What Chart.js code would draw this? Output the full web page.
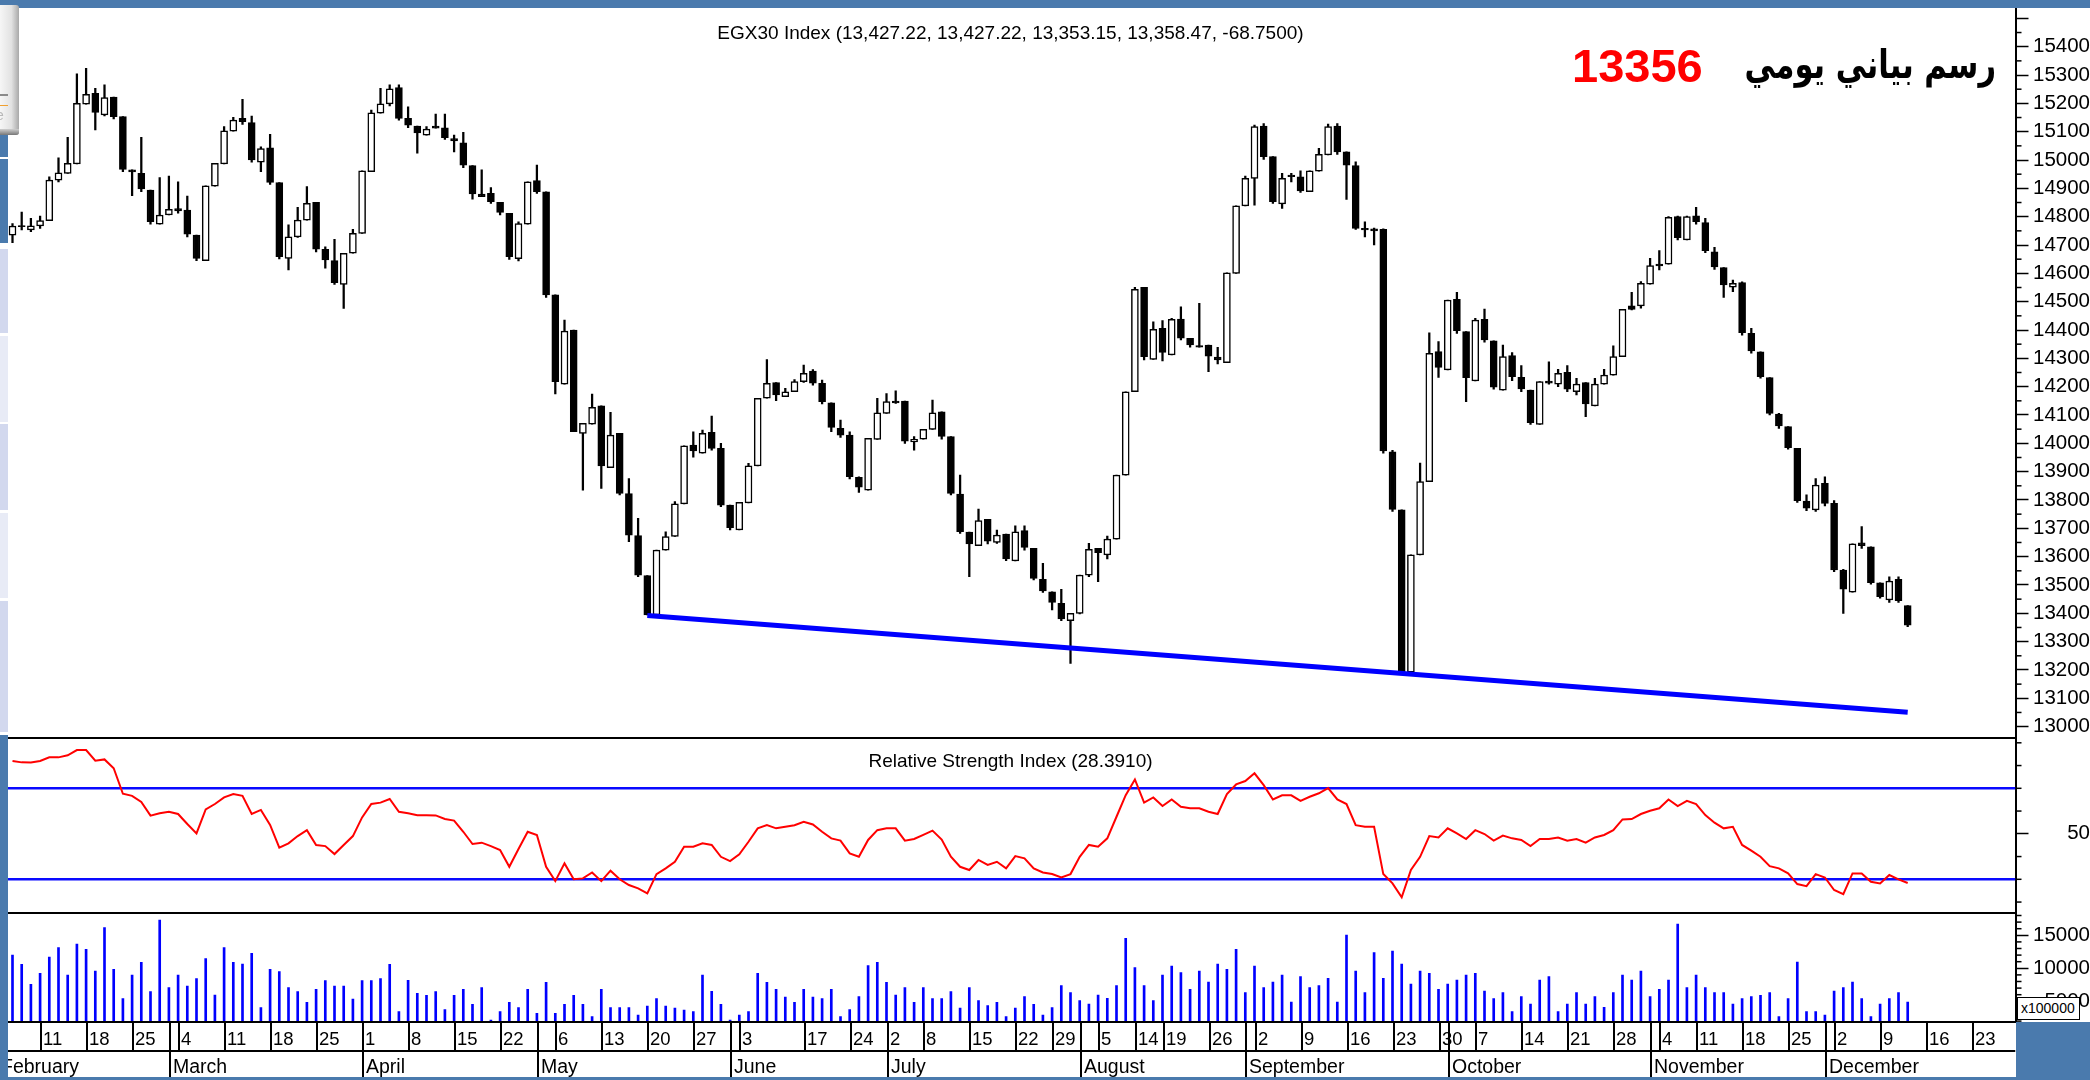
<!DOCTYPE html>
<html><head><meta charset="utf-8">
<script src="https://cdn.jsdelivr.net/npm/chart.js@4.4.1/dist/chart.umd.min.js"></script>
<style>
html,body{margin:0;padding:0;background:#fff;}
body{width:2090px;height:1080px;position:relative;overflow:hidden;font-family:"Liberation Sans",Arial,sans-serif;}
canvas{position:absolute;}
.abs{position:absolute;}
</style></head><body>
<canvas id="cPrice" width="2082" height="729" style="left:8px;top:8px"></canvas>
<canvas id="cRsi" width="2082" height="175" style="left:8px;top:737px"></canvas>
<canvas id="cVol" width="2082" height="166" style="left:8px;top:912px"></canvas>

<div class="abs" style="left:0;top:0;width:2090px;height:8px;background:#4a7aad;z-index:5"></div>
<div class="abs" style="left:0;top:1077px;width:2090px;height:3px;background:#4a7aad;z-index:5"></div>
<div class="abs" style="left:2016px;top:1022px;width:74px;height:56px;background:#4a7aad;z-index:5"></div>
<div class="abs" style="left:0;top:5px;width:19px;height:130px;background:linear-gradient(90deg,#f6f6f6,#e2e2e2 60%,#a9a9a9);border-radius:0 3px 3px 0;z-index:6;overflow:hidden">
  <div class="abs" style="left:0;top:89px;width:8px;height:2px;background:#8a8a8a"></div>
  <div class="abs" style="left:0;top:100px;width:8px;height:1px;background:#f0a030"></div>
  <div class="abs" style="left:-4px;top:102px;font:14px 'Liberation Sans';color:#b8b8b8">e</div>
  <div class="abs" style="left:0;top:124px;width:19px;height:6px;background:linear-gradient(180deg,#cfcfcf,#777)"></div>
</div>

<div class="abs" id="title" style="left:0;top:23px;width:2021px;text-align:center;font:19px/19px 'Liberation Sans';color:#000;white-space:nowrap;z-index:3">EGX30 Index (13,427.22, 13,427.22, 13,353.15, 13,358.47, -68.7500)</div>
<div class="abs" id="rsiTitle" style="left:0;top:751px;width:2021px;text-align:center;font:19px/19px 'Liberation Sans';color:#000;white-space:nowrap;z-index:3">Relative Strength Index (28.3910)</div>
<div class="abs" id="num" style="left:1572px;top:42px;font:bold 47px/47px 'Liberation Sans';color:#ff0000;white-space:nowrap;z-index:3">13356</div>
<div class="abs" id="ar" dir="rtl" style="right:94px;top:40px;font:bold 36px/50px 'DejaVu Sans';color:#000;white-space:nowrap;z-index:3;transform:scale(1,1.3);transform-origin:50% 50%">رسم بياني يومي</div>
<div class="abs" style="left:2017px;top:997px;width:58px;height:21px;background:#fff;border:1px solid #000;font:14px/21px 'Liberation Sans';color:#000;padding-left:3px;box-sizing:content-box;z-index:4;white-space:nowrap">x100000</div>

<script>
// ---------------- DATA ----------------
const open = [14735,14769,14753,14767,14786,14929,14953,14986,15197,15235,
15159,15222,15153,14965,14953,14894,14774,14806,14829,14823,
14735,14645,14908,14986,15102,15147,15132,14992,15043,14920,
14653,14729,14788,14851,14685,14645,14561,14671,14741,14959,
15165,15198,15256,15147,15120,15088,15120,15114,15076,15061,
14980,14880,14882,14851,14812,14652,14774,14927,14888,14524,
14209,14400,14035,14068,14132,13914,14035,13823,13674,13533,
13394,13623,13671,13786,13994,13965,14039,13982,13782,13694,
13790,13920,14159,14214,14165,14182,14218,14255,14212,14143,
14053,14029,13880,13835,14014,14106,14149,14149,14005,14015,
14049,14111,14024,13821,13687,13639,13732,13650,13680,13585,
13692,13629,13520,13476,13435,13374,13400,13535,13629,13606,
13662,13888,14182,14551,14296,14406,14312,14439,14371,14345,
14347,14304,14285,14600,14838,14935,15120,15012,14845,14947,
14941,14888,14961,15018,15120,15029,14980,14759,14757,14755,
13970,13765,13192,13606,13865,14324,14259,14508,14394,14220,
14438,14362,14188,14310,14233,14188,14067,14220,14209,14251,
14182,14214,14132,14209,14241,14306,14485,14485,14562,14633,
14632,14800,14718,14803,14779,14676,14620,14551,14567,14388,
14323,14232,14103,14059,13982,13796,13765,13859,13788,13553,
13475,13649,13635,13508,13447,13520,13427];
const high = [14776,14816,14794,14802,14941,15008,15080,15304,15324,15253,
15265,15222,15153,14965,15080,14894,14938,14943,14923,14873,
14735,14909,14988,15118,15151,15214,15155,15047,15091,14920,
14771,14833,14906,14851,14694,14720,14671,14755,14962,15176,
15253,15265,15265,15188,15120,15118,15162,15162,15088,15098,
14980,14965,14903,14851,14812,14782,14923,14982,14888,14524,
14435,14400,14071,14174,14132,14109,14035,13876,13735,13533,
13623,13688,13794,13991,14041,14047,14096,14000,13782,13792,
13929,14159,14296,14214,14194,14225,14276,14260,14223,14143,
14082,14041,13882,14018,14159,14176,14185,14149,14024,14049,
14153,14111,14024,13888,13687,13768,13732,13694,13680,13709,
13709,13629,13576,13476,13485,13400,13535,13647,13629,13673,
13888,14182,14551,14551,14429,14433,14441,14482,14371,14494,
14347,14339,14602,14838,14943,15123,15129,15012,14953,14953,
14962,14962,15041,15127,15129,15029,14994,14782,14760,14757,
13975,13765,13606,13930,14390,14359,14506,14533,14394,14441,
14474,14362,14347,14320,14274,14188,14218,14288,14261,14274,
14229,14214,14229,14261,14344,14473,14533,14571,14653,14680,
14800,14802,14802,14833,14794,14692,14620,14576,14570,14406,
14323,14232,14106,14059,13982,13818,13876,13882,13798,13555,
13645,13706,13635,13508,13529,13529,13427];
const low = [14708,14753,14747,14759,14786,14923,14953,14986,15197,15106,
15156,15145,14959,14874,14888,14774,14774,14806,14812,14729,
14645,14645,14908,14986,15102,15126,14992,14959,14914,14651,
14612,14727,14788,14676,14618,14561,14476,14671,14741,14959,
15165,15191,15141,15114,15024,15088,15112,15073,15029,14973,
14862,14871,14847,14806,14649,14644,14774,14882,14515,14174,
14209,14041,13835,14068,13841,13914,13818,13653,13529,13394,
13394,13623,13671,13786,13951,13965,13976,13776,13694,13694,
13790,13920,14159,14151,14165,14182,14215,14205,14139,14041,
14021,13874,13827,13835,14014,14106,14141,14000,13976,14015,
14049,14015,13818,13682,13529,13639,13645,13647,13586,13585,
13623,13518,13474,13412,13374,13223,13398,13529,13512,13592,
13662,13888,14182,14294,14296,14291,14312,14365,14339,14339,
14253,14280,14285,14600,14838,14841,15002,14847,14829,14923,
14886,14888,14961,15018,15020,14861,14755,14729,14700,13965,
13760,13188,13188,13606,13865,14233,14259,14388,14147,14220,
14357,14191,14188,14221,14182,14067,14067,14209,14200,14182,
14171,14094,14132,14209,14241,14306,14471,14477,14562,14612,
14632,14718,14718,14774,14673,14614,14515,14535,14382,14318,
14230,14100,14053,13979,13791,13762,13760,13779,13547,13400,
13475,13629,13503,13453,13438,13438,13353];
const close = [14767,14765,14768,14786,14929,14955,14988,15200,15232,15168,
15220,15153,14967,14958,14898,14782,14806,14826,14820,14738,
14653,14909,14988,15103,15141,15135,15000,15040,14921,14659,
14729,14788,14847,14685,14647,14567,14671,14741,14962,15167,
15198,15251,15147,15123,15096,15109,15112,15079,15067,14982,
14880,14871,14853,14815,14659,14776,14923,14888,14524,14218,
14396,14041,14071,14127,13920,14029,13823,13676,13535,13394,
13623,13671,13786,13991,13973,14035,13982,13782,13702,13792,
13921,14159,14212,14171,14182,14218,14247,14212,14147,14056,
14029,13882,13845,14018,14108,14147,14143,14008,14014,14049,
14108,14024,13823,13688,13645,13727,13655,13676,13592,13688,
13633,13523,13479,13438,13380,13400,13535,13626,13614,13662,
13888,14182,14544,14306,14402,14321,14438,14371,14347,14339,
14308,14294,14602,14838,14935,15118,15012,14853,14935,14941,
14891,14962,15020,15118,15029,14982,14759,14753,14750,13973,
13767,13190,13606,13865,14318,14268,14506,14398,14232,14435,
14365,14198,14306,14235,14192,14073,14218,14212,14247,14191,
14209,14139,14209,14241,14306,14473,14473,14565,14627,14626,
14798,14726,14800,14782,14680,14623,14559,14565,14391,14326,
14235,14106,14061,13985,13798,13771,13853,13788,13553,13485,
13645,13639,13508,13459,13514,13445,13358];
const volume = [12015,10602,7572,9238,11713,13126,8985,13682,12874,9592,
16157,9844,5400,8985,10904,6460,17318,7066,8985,7319,
8430,11460,5956,13126,10904,10652,12268,4036,9844,9491,
7066,6460,4845,6814,8127,7319,7319,5349,8127,8127,
8430,10602,3430,8178,6208,5905,6460,3733,5905,6814,
4541,7066,2168,3430,4845,4036,6814,3178,7875,3178,
4541,5905,4541,2673,6814,4036,4036,4036,2925,4289,
5400,4289,3986,3683,3430,8985,6511,4541,2168,2925,
3430,9238,7875,6814,5653,4845,6814,5653,5400,6814,
2673,3733,5703,10399,10904,7875,5956,7066,4845,7066,
5400,5400,6460,3986,7066,5097,4340,4845,2673,3986,
5703,4541,2925,4036,7370,6309,5097,4592,5956,5450,
7370,14541,10096,7370,5097,8985,10349,9339,6814,9592,
7925,10652,9844,12874,6309,10349,7066,7925,8985,4895,
8733,7066,7370,8480,4895,15046,9592,6309,12369,8480,
12622,10652,7622,9592,9238,6814,7622,8228,8985,9238,
6562,5400,6309,3430,5703,4592,8228,8733,3430,4592,
6309,4592,5703,4087,6309,8985,8228,9592,5703,6814,
8228,16712,7066,8985,7066,6309,6309,4592,5400,5703,
5905,6309,2673,5400,10955,3430,3430,2925,6562,7066,
7925,5400,2673,4592,5400,6309,4895];
const rsi = [82.0,81.4,81.3,82.0,83.6,83.6,84.5,86.8,86.8,82.1,
82.7,78.8,67.6,66.7,64.0,58.0,59.0,59.7,58.7,54.3,
50.2,60.7,63.1,66.0,67.5,66.7,58.7,60.5,53.9,43.9,
45.8,49.0,51.6,45.1,44.6,41.1,45.1,49.0,57.2,63.1,
63.7,65.3,59.7,59.0,58.2,58.2,58.1,56.5,55.8,50.9,
45.5,46.1,44.6,42.9,35.5,43.3,50.9,49.5,35.5,29.2,
37.0,30.0,30.4,33.0,29.2,33.8,30.0,27.5,26.0,23.8,
32.3,34.8,37.7,44.3,44.3,45.8,45.1,39.9,38.0,41.0,
46.5,52.4,53.8,52.4,53.1,53.8,55.3,54.1,50.9,48.0,
47.0,41.4,39.9,47.3,51.6,52.4,52.4,47.0,47.7,49.5,
51.4,47.5,39.9,35.5,34.1,38.5,36.3,37.7,34.8,40.2,
39.2,34.8,33.0,32.3,30.8,32.3,39.9,45.1,44.3,48.0,
57.5,67.0,73.9,63.7,66.0,62.2,65.1,61.9,61.2,61.2,
59.7,58.7,67.5,71.7,73.2,76.6,71.4,65.1,66.9,66.9,
64.5,66.3,67.8,70.1,65.1,63.1,53.8,53.1,53.1,32.3,
28.2,22.1,34.1,39.9,49.0,48.4,52.4,50.2,47.7,51.6,
49.9,47.0,49.2,48.0,47.3,44.6,47.7,47.7,48.4,47.0,
47.7,46.1,48.4,49.5,51.6,56.3,56.5,58.7,60.1,61.2,
65.1,62.2,64.5,63.1,58.2,54.9,52.4,53.1,45.1,42.6,
39.9,35.8,34.8,32.6,27.9,27.0,32.3,30.8,25.3,23.5,
32.6,32.6,28.9,28.2,31.9,30.0,28.4];
const trendX = [69, 206];
const trendY = [13392, 13051];
const rsiBands = [70, 30];

const weekTickIdx = [3,8,13,18,23,28,33,38,43,48,53,59,64,69,74,79,86,91,95,99,104,109,113,118,122,125,130,135,140,145,150,155,159,164,169,174,179,183,188,193,198,203,208,213];
const weekTickLabels = ['11','18','25','4','11','18','25','1','8','15','22','6','13','20','27','3','17','24','2','8','15','22','29','5','14','19','26','2','9','16','23','30','7','14','21','28','4','11','18','25','2','9','16','23'];
const monthTickIdx = [-1.7,17,38,57,78,95,116,134,156,178,197];
const monthLabels = ['February','March','April','May','June','July','August','September','October','November','December'];

const priceTicks = [13000,13100,13200,13300,13400,13500,13600,13700,13800,13900,14000,14100,14200,14300,14400,14500,14600,14700,14800,14900,15000,15100,15200,15300,15400,15500];
const priceTickLabels = ['13000','13100','13200','13300','13400','13500','13600','13700','13800','13900','14000','14100','14200','14300','14400','14500','14600','14700','14800','14900','15000','15100','15200','15300','15400',''];
const rsiTicks = [50];
const rsiTickLabels = ['50'];
const rsiMinorTicks = [20,30,40,60,70,80,90];
const volTicks = [5000,10000,15000];
const volTickLabels = ['5000','10000','15000'];
const volMinorTicks = [2000,3000,4000,6000,7000,8000,9000,11000,12000,13000,14000,16000,17000,18000];

// ---------------- LAYOUT ----------------
const X_MIN = -0.489, X_MAX = 217.717;
const P_MIN = 12963.4, P_MAX = 15536.6;
const R_MIN = 15.63, R_MAX = 92.55;
const V_MIN = 1864, V_MAX = 18530;
const AXIS_W = 74.5;

[[8,133,'#fff'],[133,157,'#4a7aad'],[159,243,'#4a7aad'],[249,333,'#d2d8ee'],[336,422,'#e8ebf6'],[424,510,'#d2d8ee'],[513,598,'#e8ebf6'],[601,732,'#d2d8ee'],[735,1077,'#4a7aad']].forEach(s=>{
  const d=document.createElement('div'); d.className='abs';
  d.style.cssText=`left:0;top:${s[0]}px;width:8px;height:${s[1]-s[0]}px;background:${s[2]};z-index:5`;
  document.body.appendChild(d);
});

function fontAvailable(name){
  const c=document.createElement('canvas').getContext('2d');
  const t='mmmmmmmmmmlli 15400 WWw';
  c.font='40px monospace'; const a=c.measureText(t).width;
  c.font=`40px "${name}", monospace`; const b=c.measureText(t).width;
  c.font='40px serif'; const d=c.measureText(t).width;
  c.font=`40px "${name}", serif`; const e=c.measureText(t).width;
  return a!==b || d!==e;
}
const NARROW = fontAvailable('Liberation Sans Narrow');
const axisFont = NARROW ? {family:"'Liberation Sans Narrow', sans-serif", size:23} : {family:"'Liberation Sans', sans-serif", size:20.5};
const mctx = document.createElement('canvas').getContext('2d');
function widest(labels){ mctx.font=`${axisFont.size}px ${axisFont.family}`; return Math.max(...labels.map(l=>mctx.measureText(l).width)); }

(function(){
  const el=document.getElementById('ar');
  const w=el.offsetWidth;
  const fs=36*252/w;
  el.style.fontSize=fs.toFixed(1)+'px';
})();

Chart.defaults.font.family = "'Liberation Sans', Arial, sans-serif";

function yAxis(min,max,ticks,labels){
  const pad = 59.5 - widest(labels.filter(l=>l));
  return {
    position:'right', min, max, bounds:'data',
    afterBuildTicks: s => { s.ticks = ticks.map(v=>({value:v})); },
    afterFit: s => { s.width = AXIS_W; s.paddingTop = 0; s.paddingBottom = 0; },
    grid:{ drawOnChartArea:false, drawTicks:true, tickLength:13, tickWidth:1.5, tickColor:'#000' },
    border:{ display:true, color:'#000', width:2 },
    ticks:{ autoSkip:false, crossAlign:'far', padding:pad, color:'#000', font:axisFont,
      callback:(v,i)=>labels[i] }
  };
}
function xAxis(){ return {type:'linear', min:X_MIN, max:X_MAX, display:false, offset:false, bounds:'data'}; }
function baseOpts(y, padBottom){
  return { responsive:false, animation:false, devicePixelRatio:1, events:[],
    layout:{padding:{left:0,right:0,top:0,bottom:padBottom||0}},
    plugins:{legend:{display:false}, tooltip:{enabled:false}},
    scales:{ x:xAxis(), y } };
}
function minorTickPlugin(values,len){
  return { id:'minorTicks', afterDraw(chart){
    const s=chart.scales.y, ctx=chart.ctx; ctx.save(); ctx.strokeStyle='#000'; ctx.lineWidth=1.5;
    values.forEach(v=>{ const y=s.getPixelForValue(v); ctx.beginPath(); ctx.moveTo(s.left,y); ctx.lineTo(s.left+len,y); ctx.stroke(); });
    ctx.restore(); } };
}
const topLinePlugin = { id:'topLine', afterDraw(chart){
  const ctx=chart.ctx, a=chart.chartArea; ctx.save(); ctx.strokeStyle='#000'; ctx.lineWidth=2;
  ctx.beginPath(); ctx.moveTo(0,a.top+1); ctx.lineTo(chart.scales.y.left+1,a.top+1); ctx.stroke(); ctx.restore(); } };
const dateAxisPlugin = { id:'dateAxis', afterDraw(chart){
  const ctx=chart.ctx, xs=chart.scales.x, a=chart.chartArea;
  const y0=a.bottom, y1=y0+29, y2=chart.height;
  const right=chart.scales.y.left;
  ctx.save();
  ctx.beginPath(); ctx.rect(0,y0-2,right,y2-y0+2); ctx.clip();
  ctx.strokeStyle='#000'; ctx.lineWidth=2; ctx.fillStyle='#000';
  const L=(x1,ya,x2,yb)=>{ctx.beginPath();ctx.moveTo(x1,ya);ctx.lineTo(x2,yb);ctx.stroke();};
  L(0,y0,right,y0); L(0,y1,right,y1);
  ctx.textAlign='left'; ctx.textBaseline='alphabetic';
  ctx.font="18.5px 'Liberation Sans', sans-serif";
  weekTickIdx.forEach((v,i)=>{ const x=Math.round(xs.getPixelForValue(v))+1; L(x,y0,x,y1); ctx.fillText(weekTickLabels[i], x+2, y0+23); });
  ctx.font="19.5px 'Liberation Sans', sans-serif";
  monthTickIdx.forEach((v,i)=>{ const x=Math.round(xs.getPixelForValue(v))+1; L(x,y0,x,y2); ctx.fillText(monthLabels[i], x+3, y1+22); });
  ctx.restore(); } };

const idx = open.map((_,i)=>i);

new Chart(document.getElementById('cPrice'), {
  type:'bar',
  data:{ datasets:[
    { type:'line', data: trendX.map((x,i)=>({x, y:trendY[i]})), borderColor:'#0000ff', borderWidth:5, pointRadius:0, order:-1 },
    { type:'bar', data: idx.map(i=>({x:i, y:[open[i], close[i]]})),
      backgroundColor: idx.map(i=> close[i]>=open[i] ? '#ffffff' : '#000000'),
      borderColor:'#000', borderWidth:1.5, borderSkipped:false, barThickness:7, grouped:false, order:0 },
    { type:'bar', data: idx.map(i=>({x:i, y:[low[i], high[i]]})),
      backgroundColor:'#000', borderWidth:0, barThickness:1.6, grouped:false, order:1 }
  ]},
  options: baseOpts(yAxis(P_MIN,P_MAX,priceTicks,priceTickLabels)),
  plugins:[minorTickPlugin(priceTicks.map(v=>v-50).filter(v=>v>P_MIN),6)]
});

new Chart(document.getElementById('cRsi'), {
  type:'line',
  data:{ datasets:[
    { data: idx.map(i=>({x:i, y:rsi[i]})), borderColor:'#ff0000', borderWidth:2, pointRadius:0, tension:0, order:0 },
    ...rsiBands.map(v=>({ data:[{x:X_MIN,y:v},{x:X_MAX,y:v}], borderColor:'#0a0aff', borderWidth:2.5, pointRadius:0, order:1 }))
  ]},
  options: baseOpts(yAxis(R_MIN,R_MAX,rsiTicks,rsiTickLabels)),
  plugins:[minorTickPlugin(rsiMinorTicks,6), topLinePlugin]
});

new Chart(document.getElementById('cVol'), {
  type:'bar',
  data:{ datasets:[
    { data: idx.map(i=>({x:i, y:volume[i]})), backgroundColor:'#0000ff', borderWidth:0, barThickness:2, grouped:false }
  ]},
  options: baseOpts(yAxis(V_MIN,V_MAX,volTicks,volTickLabels), 56),
  plugins:[minorTickPlugin(volMinorTicks,6), topLinePlugin, dateAxisPlugin]
});
</script>
</body></html>
